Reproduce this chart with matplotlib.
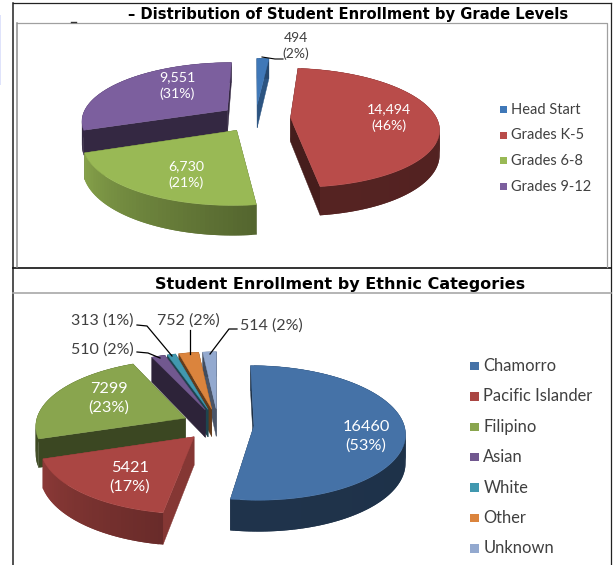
import numpy as np
import matplotlib
matplotlib.use('Agg')
import matplotlib.pyplot as plt
from matplotlib.patches import Polygon, Rectangle

# top chart
grade_names = ['Head Start', 'Grades K-5', 'Grades 6-8', 'Grades 9-12']
grade_values = [494, 14494, 6730, 9551]
grade_pct = [2, 46, 21, 31]
grade_colors = ['#3f78b8', '#b94c4a', '#99b955', '#7c5f9e']
grade_rim = [(0.6, 0.6), (0.42, 0.46), (0.55, 0.88), (0.42, 0.5)]
grade_cut = [0.7, 0.38, 0.5, 0.42]

# bottom chart
ethnic_names = ['Chamorro', 'Pacific Islander', 'Filipino', 'Asian', 'White', 'Other', 'Unknown']
ethnic_values = [16460, 5421, 7299, 510, 313, 752, 514]
ethnic_pct = [53, 17, 23, 2, 1, 2, 2]
ethnic_colors = ['#4572a7', '#aa4643', '#89a54e', '#71588f', '#4198af', '#db843d', '#93a9cf']
ethnic_rim = [(0.42, 0.45), (0.62, 0.82), (0.45, 0.45), (0.4, 0.4), (0.45, 0.45), (0.45, 0.45), (0.45, 0.45)]
ethnic_cut = [0.42, 0.78, 0.43, 0.4, 0.45, 0.45, 0.5]

LABEL_FONT = 'Lato'


def shade(color, f):
    return tuple(c * f for c in matplotlib.colors.to_rgb(color))


def mix(a, b, t):
    return a + (b - a) * t


def draw_pie(ax, values, colors, rims, cuts, cx, cy, rx, ry, persp, depth):
    total = sum(values)
    spans = np.array(values) / total * 2 * np.pi
    starts = np.concatenate([[0], np.cumsum(spans)[:-1]])
    explode = 0.24

    def project(u, v):
        s = 1 / (1 - persp * v)
        return cx + rx * u * s, cy + ry * v * s, depth * s

    # back slices first, angles run clockwise from 12 o'clock
    order = sorted(range(len(values)), key=lambda i: -np.cos(starts[i] + spans[i] / 2))
    for i in order:
        mid = starts[i] + spans[i] / 2
        u0 = explode * np.sin(mid)
        v0 = -explode * np.cos(mid)
        th = np.linspace(starts[i], starts[i] + spans[i], max(8, int(spans[i] * 40)))
        us = u0 + np.sin(th)
        vs = v0 - np.cos(th)
        px, py, pd = project(us, vs)
        ax0, ay0, ad0 = project(u0, v0)

        # flat cut faces
        cut = shade(colors[i], cuts[i])
        for k in (0, -1):
            quad = [(ax0, ay0), (px[k], py[k]), (px[k], py[k] + pd[k]), (ax0, ay0 + ad0)]
            ax.add_patch(Polygon(quad, closed=True, fc=cut, ec=cut, lw=0.3))

        # outer rim, shaded step by step, each step overlaps the next to hide seams
        for k in range(len(th) - 1):
            f = mix(rims[i][0], rims[i][1], k / max(1, len(th) - 2))
            c = shade(colors[i], f)
            e = min(k + 2, len(th) - 1)
            quad = [(px[k], py[k]), (px[e], py[e]), (px[e], py[e] + pd[e]), (px[k], py[k] + pd[k])]
            ax.add_patch(Polygon(quad, closed=True, fc=c, ec='none'))

        top = [(ax0, ay0)] + list(zip(px, py))
        ax.add_patch(Polygon(top, closed=True, fc=colors[i], ec=colors[i], lw=0.3))


def draw_legend(ax, names, colors, x, y0, step, size, fontsize):
    for i, name in enumerate(names):
        y = y0 + i * step
        ax.add_patch(Rectangle((x - size / 2, y - size / 2), size, size, fc=colors[i], ec='none'))
        ax.text(x + size / 2 + 4.5, y, name, fontsize=fontsize, family=LABEL_FONT,
                color='#404040', va='center', ha='left')


fig = plt.figure(figsize=(6.16, 5.65), dpi=100)
ax = fig.add_axes([0, 0, 1, 1])
ax.set_xlim(0, 616)
ax.set_ylim(565, 0)
ax.axis('off')

# page furniture
ax.add_patch(Rectangle((0, 15), 1.2, 70, fc='#dfe3fb', ec='none'))
ax.plot([12.5, 611], [3, 3], color='#222222', lw=0.9)
ax.plot([12.5, 12.5], [3, 565], color='#222222', lw=1.1)
ax.plot([611, 611], [3, 565], color='#222222', lw=0.9)
ax.plot([12.5, 611], [267.5, 267.5], color='#111111', lw=1.2)
ax.plot([16.5, 607, 607], [22.5, 22.5, 267], color='#a0a0a0', lw=0.9)
ax.plot([16.5, 16.5], [22.5, 267], color='#909090', lw=1.1)
ax.plot([12.5, 611], [293, 293], color='#a8a8a8', lw=1.2)
ax.plot([71, 76], [21.5, 21.5], color='#333333', lw=1)

ax.text(348, 14, '– Distribution of Student Enrollment by Grade Levels', fontsize=10.6,
        fontweight='bold', ha='center', va='center', color='black')
ax.text(340.5, 284, 'Student Enrollment by Ethnic Categories', fontsize=11.5,
        fontweight='bold', ha='center', va='center', color='black')

draw_pie(ax, grade_values, grade_colors, grade_rim, grade_cut, 255.5, 118, 146, 58, 1 / 6, 24)
draw_pie(ax, ethnic_values, ethnic_colors, ethnic_rim, ethnic_cut, 218, 424.5, 150, 66.3, 0.105, 28)

# top data labels
grade_pos = [None, (389, 118), (186, 175), (177, 86)]
for i, pos in enumerate(grade_pos):
    if pos is not None:
        ax.text(pos[0], pos[1], f'{grade_values[i]:,}\n({grade_pct[i]}%)', color='white', fontsize=10.2,
                family=LABEL_FONT, ha='center', va='center', linespacing=1.4)
ax.text(296, 46, f'{grade_values[0]}\n({grade_pct[0]}%)', color='#404040', fontsize=10,
        family=LABEL_FONT, ha='center', va='center', linespacing=1.4)
ax.plot([283, 275, 262], [59, 59, 57], color='black', lw=0.8)

# bottom data labels
ethnic_pos = [(366, 436.5), (130, 477), (109, 398.5)]
for i, pos in enumerate(ethnic_pos):
    ax.text(pos[0], pos[1], f'{ethnic_values[i]}\n({ethnic_pct[i]}%)', color='white', fontsize=11.7,
            family=LABEL_FONT, ha='center', va='center', linespacing=1.38)
small_pos = [(102, 349.5), (102, 320.5), (188, 320.5), (271, 325.5)]
for i, pos in zip([3, 4, 5, 6], small_pos):
    ax.text(pos[0], pos[1], f'{ethnic_values[i]} ({ethnic_pct[i]}%)', color='#404040', fontsize=11.5,
            family=LABEL_FONT, ha='center', va='center')
leaders = [([137, 148, 160], [352, 353, 358]), ([137, 147, 172], [325, 326, 356]),
           ([190, 190], [330, 354]), ([237, 229, 210], [329, 329, 354])]
for xs, ys in leaders:
    ax.plot(xs, ys, color='black', lw=0.9)

draw_legend(ax, grade_names, grade_colors, 503, 109.5, 25.7, 7, 10.5)
draw_legend(ax, ethnic_names, ethnic_colors, 474.5, 366, 30.4, 8.5, 11.9)

fig.savefig('out.png', dpi=100)
